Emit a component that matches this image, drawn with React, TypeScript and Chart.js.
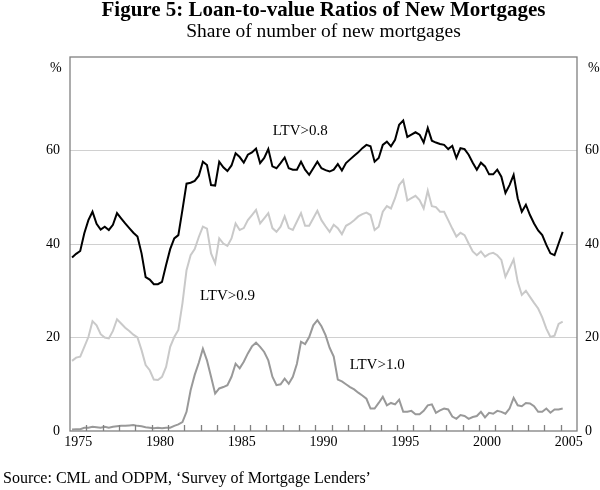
import { useEffect, useRef } from 'react';
import { Chart, registerables } from 'chart.js';

Chart.register(...registerables);

const SERIF = '"Liberation Serif", "Times New Roman", serif';

// Quarterly data, 1975 Q1 – 2005 Q1 (per cent of number of new mortgages)
const firstYear = 1975;

const ltv08 = [
  37.1, 37.9, 38.5, 42.3, 45.1, 46.9, 44.3, 43.1, 43.7, 43.0, 44.1, 46.6, 45.5, 44.4, 43.4, 42.4,
  41.6, 38.0, 32.9, 32.4, 31.4, 31.4, 31.9, 35.5, 38.9, 41.2, 41.9, 47.3, 52.9, 53.1, 53.5, 54.6,
  57.6, 56.9, 52.6, 52.5, 57.6, 56.4, 55.6, 56.8, 59.4, 58.6, 57.4, 59.1, 59.6, 60.4, 57.3, 58.4,
  60.3, 56.6, 56.2, 57.3, 58.5, 56.2, 55.9, 55.9, 57.6, 55.9, 54.8, 56.2, 57.6, 56.2, 55.8, 55.5,
  55.9, 57.1, 55.7, 57.3, 58.1, 58.9, 59.6, 60.5, 61.2, 60.9, 57.6, 58.4, 61.2, 61.9, 60.9, 62.3,
  65.5, 66.4, 62.9, 63.4, 63.9, 63.4, 61.7, 64.8, 62.1, 61.7, 61.4, 61.2, 60.3, 61.0, 58.4, 60.5,
  60.3, 59.1, 57.4, 55.9, 57.4, 56.6, 54.9, 54.9, 55.9, 54.4, 50.9, 52.6, 54.8, 49.8, 46.9, 48.4,
  46.2, 44.4, 42.9, 41.9, 39.8, 38.0, 37.6, 40.1, 42.6,
];

const ltv09 = [
  15.0, 15.7, 15.9, 18.0, 20.1, 23.5, 22.6, 20.7, 20.0, 19.8, 21.4, 23.9, 23.0, 22.1, 21.4, 20.6,
  20.0, 17.3, 14.1, 13.0, 11.0, 10.9, 11.6, 13.7, 18.0, 20.1, 21.6, 27.3, 34.4, 37.6, 38.9, 41.5,
  43.7, 43.3, 38.0, 35.9, 41.2, 40.1, 39.6, 41.2, 44.4, 43.0, 43.4, 45.1, 46.2, 47.3, 44.4, 45.5,
  46.6, 43.4, 42.6, 43.7, 45.9, 43.4, 43.0, 44.8, 46.6, 43.9, 43.9, 45.5, 47.1, 45.1, 43.8, 42.6,
  44.1, 43.4, 42.1, 43.9, 44.4, 45.1, 45.9, 46.4, 46.7, 46.2, 43.0, 43.7, 46.9, 48.1, 47.6, 49.8,
  52.6, 53.7, 49.3, 49.8, 50.3, 49.4, 47.6, 51.4, 48.1, 47.9, 46.9, 46.9, 45.1, 43.3, 41.6, 42.4,
  41.9, 40.1, 38.4, 37.6, 38.4, 37.3, 37.9, 38.1, 37.6, 36.6, 33.0, 34.8, 36.7, 31.9, 29.1, 30.0,
  28.7, 27.4, 26.2, 24.3, 21.9, 20.1, 20.4, 22.9, 23.4,
];

const ltv10 = [
  0.3, 0.4, 0.4, 0.7, 0.7, 0.9, 0.8, 0.7, 0.9, 0.7, 0.9, 1.0, 1.1, 1.1, 1.2, 1.3,
  1.1, 1.0, 0.8, 0.7, 0.6, 0.7, 0.6, 0.7, 0.7, 1.1, 1.4, 1.9, 4.1, 8.7, 12.0, 14.6,
  17.6, 15.1, 11.6, 8.0, 9.1, 9.4, 9.8, 11.6, 14.4, 13.4, 14.8, 16.6, 18.1, 18.9, 18.0, 16.9,
  15.1, 11.6, 9.8, 10.0, 11.2, 10.1, 11.6, 14.4, 19.1, 18.6, 20.1, 22.6, 23.7, 22.4, 20.5, 17.8,
  15.9, 11.0, 10.6, 10.0, 9.4, 8.9, 8.2, 7.6, 6.9, 4.8, 4.8, 6.0, 7.3, 5.5, 6.0, 5.7,
  6.7, 4.1, 4.1, 4.3, 3.6, 3.6, 4.3, 5.5, 5.7, 3.9, 4.4, 4.8, 4.6, 3.1, 2.6, 3.4,
  3.2, 2.6, 3.0, 3.2, 4.1, 2.9, 3.9, 3.7, 4.3, 4.1, 3.7, 4.8, 7.1, 5.5, 5.3, 6.0,
  5.9, 5.3, 4.1, 4.1, 4.8, 3.9, 4.6, 4.6, 4.8,
];

const yearLabels = [1975, 1980, 1985, 1990, 1995, 2000, 2005];
const yTickValues = [0, 20, 40, 60, 80];
const yLabelledTicks = [0, 20, 40, 60];

const titleText = 'Figure 5: Loan-to-value Ratios of New Mortgages';
const subtitleText = 'Share of number of new mortgages';
const sourceText = 'Source: CML and ODPM, \u2018Survey of Mortgage Lenders\u2019';

// series label anchors in data coordinates (year, per cent) – left/baseline
const seriesLabels = [
  { text: 'LTV>0.8', year: 1987.4, value: 63.4 },
  { text: 'LTV>0.9', year: 1982.95, value: 28.0 },
  { text: 'LTV>1.0', year: 1992.1, value: 13.2 },
];

const toPoints = (vals: number[]) =>
  vals.map((v, i) => ({ x: firstYear + (i + 0.5) / 4, y: v }));

const FRAME = '#808080';

const decor = {
  id: 'decor',
  afterDatasetsDraw(chart: any) {
    const { ctx, chartArea } = chart;
    const xs = chart.scales.x;
    ctx.save();
    ctx.strokeStyle = FRAME;
    ctx.lineWidth = 1.3;
    ctx.strokeRect(chartArea.left, chartArea.top, chartArea.right - chartArea.left, chartArea.bottom - chartArea.top);
    ctx.beginPath();
    for (let y = xs.min + 1; y < xs.max; y++) {
      const px = Math.round(xs.getPixelForValue(y)) + 0.5;
      ctx.moveTo(px, chartArea.bottom);
      ctx.lineTo(px, chartArea.bottom - 6);
    }
    ctx.stroke();
    ctx.restore();
  },
  afterDraw(chart: any) {
    const { ctx, chartArea } = chart;
    const xs = chart.scales.x;
    const ys = chart.scales.y;
    const cx = (chartArea.left + chartArea.right) / 2;
    ctx.save();
    ctx.fillStyle = '#000';
    ctx.textBaseline = 'alphabetic';
    ctx.textAlign = 'center';
    ctx.font = `bold 21px ${SERIF}`;
    ctx.fillText(titleText, cx, 16);
    ctx.font = `19.5px ${SERIF}`;
    ctx.fillText(subtitleText, cx, 37);

    ctx.font = `14px ${SERIF}`;
    ctx.textAlign = 'left';
    ctx.fillText('%', 50, 72);
    ctx.fillText('%', 588, 72);

    ctx.font = `15px ${SERIF}`;
    for (const l of seriesLabels) {
      ctx.fillText(l.text, xs.getPixelForValue(l.year), ys.getPixelForValue(l.value));
    }

    ctx.font = `16px ${SERIF}`;
    ctx.fillText(sourceText, 3, 483);
    ctx.restore();
  },
};

export default function App() {
  const ref = useRef<HTMLCanvasElement>(null);

  useEffect(() => {
    const canvas = ref.current;
    if (!canvas) return;
    const tickFont = { family: SERIF, size: 14 };
    const yCallback = (v: any) => (yLabelledTicks.includes(Number(v)) ? String(v) : '');
    const chart = new Chart(canvas, {
      type: 'line',
      data: {
        datasets: [
          {
            label: 'LTV>0.8',
            data: toPoints(ltv08),
            borderColor: '#000000',
            borderWidth: 2,
            pointRadius: 0,
            tension: 0,
          },
          {
            label: 'LTV>1.0',
            data: toPoints(ltv10),
            borderColor: '#999999',
            borderWidth: 2,
            pointRadius: 0,
            tension: 0,
          },
          {
            label: 'LTV>0.9',
            data: toPoints(ltv09),
            borderColor: '#c9c9c9',
            borderWidth: 2,
            pointRadius: 0,
            tension: 0,
          },
        ],
      },
      options: {
        animation: false,
        responsive: false,
        layout: { padding: { top: 57, left: 0, right: 0, bottom: 0 } },
        plugins: {
          legend: { display: false },
          tooltip: { enabled: false },
          title: { display: false },
        },
        scales: {
          x: {
            type: 'linear',
            min: 1975,
            max: 2006,
            afterBuildTicks: (s: any) => {
              s.ticks = yearLabels.map((y) => ({ value: y + 0.5 }));
            },
            afterFit: (s: any) => {
              s.height = 59;
            },
            grid: { display: false, drawTicks: false },
            border: { display: false },
            ticks: {
              autoSkip: false,
              maxRotation: 0,
              minRotation: 0,
              padding: 3,
              color: '#000',
              font: tickFont,
              callback: (v: any) => String(Math.floor(Number(v))),
            },
          },
          y: {
            position: 'left',
            min: 0,
            max: 80,
            afterBuildTicks: (s: any) => {
              s.ticks = yTickValues.map((v) => ({ value: v }));
            },
            afterFit: (s: any) => {
              s.width = 70;
            },
            grid: {
              drawTicks: false,
              lineWidth: 1,
              color: (c: any) =>
                c.tick && c.tick.value > 0 && c.tick.value < 80 ? '#d0d0d0' : 'rgba(0,0,0,0)',
            },
            border: { display: false },
            ticks: { padding: 10, color: '#000', font: tickFont, callback: yCallback },
          },
          y2: {
            position: 'right',
            min: 0,
            max: 80,
            afterBuildTicks: (s: any) => {
              s.ticks = yTickValues.map((v) => ({ value: v }));
            },
            afterFit: (s: any) => {
              s.width = 23;
            },
            grid: { display: false, drawTicks: false },
            border: { display: false },
            ticks: { padding: 8, color: '#000', font: tickFont, callback: yCallback },
          },
        },
      },
      plugins: [decor],
    } as any);
    return () => chart.destroy();
  }, []);

  return (
    <div style={{ position: 'absolute', left: 0, top: 0, width: 600, height: 490, background: '#fff' }}>
      <canvas ref={ref} width={600} height={490} style={{ display: 'block' }} />
    </div>
  );
}
